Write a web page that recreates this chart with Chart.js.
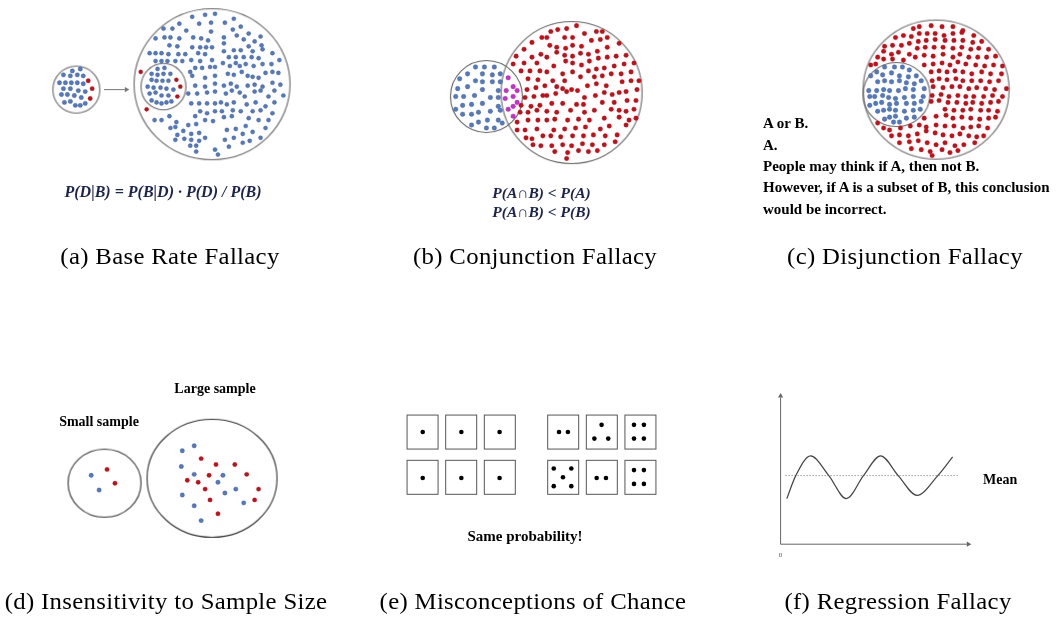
<!DOCTYPE html>
<html><head><meta charset="utf-8">
<script src="https://cdn.jsdelivr.net/npm/chart.js@4.4.0/dist/chart.umd.min.js"></script>
<style>
html,body{margin:0;padding:0;background:#fff;}
#wrap{position:relative;width:1057px;height:622px;overflow:hidden;background:#fff;}
#c{position:absolute;left:0;top:0;width:1057px;height:622px;}
.t{position:absolute;white-space:nowrap;line-height:1;font-family:"Liberation Serif","Times New Roman",serif;color:#000;}
.cap{font-size:22.5px;letter-spacing:0.3px;transform:translateX(-50%) scaleX(1.1);}
.b{font-weight:bold;}
.f{font-weight:bold;font-style:italic;color:#1b2350;}
.ctr{transform:translateX(-50%);}
</style></head>
<body><div id="wrap"><canvas id="c" width="1057" height="622"></canvas>
<div class="t f ctr" style="left:163px;top:183.9px;font-size:16px">P(D|B) = P(B|D) · P(D) / P(B)</div>
<div class="t f ctr" style="left:541.5px;top:185.3px;font-size:15.5px">P(A∩B) &lt; P(A)</div>
<div class="t f ctr" style="left:541.5px;top:203.7px;font-size:15.5px">P(A∩B) &lt; P(B)</div>
<div class="t b" style="left:763px;top:116.4px;font-size:15px">A or B.</div>
<div class="t b" style="left:763px;top:137.7px;font-size:15px">A.</div>
<div class="t b" style="left:763px;top:159px;font-size:15px">People may think if A, then not B.</div>
<div class="t b" style="left:763px;top:180.4px;font-size:15px">However, if A is a subset of B, this conclusion</div>
<div class="t b" style="left:763px;top:201.7px;font-size:15px">would be incorrect.</div>
<div class="t cap" style="left:170px;top:246.2px">(a) Base Rate Fallacy</div>
<div class="t cap" style="left:535px;top:246.2px">(b) Conjunction Fallacy</div>
<div class="t cap" style="left:905px;top:246.2px">(c) Disjunction Fallacy</div>
<div class="t b ctr" style="left:215px;top:381.6px;font-size:14px">Large sample</div>
<div class="t b ctr" style="left:99px;top:415px;font-size:14px">Small sample</div>
<div class="t b ctr" style="left:525px;top:529.1px;font-size:15px">Same probability!</div>
<div class="t b" style="left:983px;top:473.3px;font-size:14px">Mean</div>
<div class="t ctr" style="left:780.5px;top:551.6px;font-size:7px;color:#555">0</div>
<div class="t cap" style="left:166px;top:591.2px">(d) Insensitivity to Sample Size</div>
<div class="t cap" style="left:533px;top:591.2px">(e) Misconceptions of Chance</div>
<div class="t cap" style="left:898px;top:591.2px">(f) Regression Fallacy</div>
</div>
<script>
// ---------- data (page pixel units) ----------
const circleCenters = [[72,86],[209,80.5],[160,83],[486,93],[572,89],[940,86],[900,91],[100.5,486],[209,481]];
const circleRadii   = [[23.5,23.5],[78,75.5],[22.5,23.3],[36,36],[70.5,71],[73,69.5],[33.5,32],[36.5,34],[65,59]];

const aSmallBlue = [[76,65],[68,67],[59,71],[66,72],[73,71],[79,72],[55,79],[61,79],[67,79],[73,79],[79,80],[59,85],[66,85],[74,87],[81,88],[57,91],[63,91],[70,92],[77,94],[60,99],[66,98],[71,102],[76,102],[81,100]];
const aSmallRed = [[84,77],[88,85],[86,95]];
const aBigBlue = [[189,12],[202,10],[212,9],[176,19],[196,19],[208,18],[160,24],[169,24],[183,26],[208,27],[152,34],[161,33],[167,33],[176,34],[190,33],[198,34],[205,36],[166,41],[174,42],[189,43],[197,43],[203,43],[209,43],[146,49],[152,49],[158,49],[165,50],[175,50],[182,50],[195,49],[202,50],[152,57],[158,57],[164,57],[172,57],[179,57],[188,56],[197,57],[209,56],[161,64],[154,65],
[148,70],[154,71],[160,70],[167,70],[148,76],[153,77],[159,77],[165,77],[144,83],[150,84],[157,84],[163,85],[170,86],[146,90],[152,89],[158,92],[165,92],[148,97],[153,99],[158,100],[163,99],[168,98],
[187,68],[192,64],[199,64],[207,63],[212,63],[189,72],[202,74],[212,72],[192,82],[202,83],[212,80],[185,90],[194,90],[204,89],[212,88],[188,100],[196,100],[204,100],[212,100],[197,108],[204,110],[212,108],[151,117],[158,117],[166,113],[173,119],[192,113],[202,117],[210,118],[167,125],[172,124],[185,122],[193,121],[174,132],[180,128],[188,131],[196,130],[172,137],[181,136],[188,137],[196,138],[202,135],[187,143],[193,143],[212,147],[193,149],[215,152],
[222,18],[231,14],[230,25],[238,22],[221,33],[234,31],[246,29],[241,35],[252,37],[258,32],[221,39],[246,42],[259,41],[221,47],[231,46],[238,46],[250,47],[260,45],[226,53],[233,53],[241,53],[249,53],[256,54],[270,49],[220,59],[227,62],[233,59],[237,62],[243,60],[251,62],[260,60],[269,60],[277,56],[225,70],[231,71],[239,68],[245,72],[250,73],[256,74],[263,69],[270,68],[276,69],[221,82],[228,80],[234,83],[245,82],[252,81],[260,83],[270,79],[278,81],
[223,90],[229,87],[237,89],[242,93],[252,88],[258,87],[266,93],[272,87],[281,92],[218,99],[224,101],[231,99],[244,101],[253,99],[263,103],[272,99],[219,108],[230,107],[238,108],[250,108],[258,107],[270,110],[221,114],[229,113],[246,115],[256,117],[266,117],[224,127],[233,126],[243,123],[250,129],[263,125],[240,131],[222,137],[231,135],[240,140],[247,138],[258,135],[226,144]];
const aBigRed = [[137,68],[173,76],[177,83],[174,93],[143,106]];
const aArrow = [[100,86],[121,86]];
const aArrowHead = [[122.5,86]];

const bBlue = [[475,63],[484,63],[494,63],[459,75],[467,70],[475,77],[482,70],[492,71],[500,70],[482,78],[492,78],[500,78],[457,85],[467,83],[482,86],[498,87],[455,93],[463,93],[474,92],[490,94],[498,94],[455,106],[462,102],[471,101],[482,100],[498,103],[462,111],[471,111],[478,109],[490,108],[500,107],[471,122],[478,119],[487,117],[498,117],[502,120],[486,125],[494,125]];
const bMagenta = [[508,74],[513,83],[506,87],[517,87],[513,93],[505,95],[517,99],[513,103],[508,106],[513,113]];
const bRed = [[542,33],[532,38],[524,45],[516,52],[532,53],[541,50],[513,60],[524,59],[537,59],[521,67],[530,67],[540,67],[528,75],[538,76],[527,86],[536,84],[543,92],[525,94],[534,93],[521,102],[531,103],[540,102],[520,109],[528,109],[537,107],[517,119],[528,117],[538,117],[517,127],[525,127],[537,126],[543,133],[526,135],[532,136],[533,142],[541,143],
[551,27],[558,25],[567,24],[577,21],[547,33],[565,33],[573,33],[585,29],[597,27],[603,27],[550,41],[557,43],[566,44],[573,41],[582,42],[592,36],[601,35],[608,33],[620,39],[547,53],[557,48],[565,51],[573,52],[581,49],[589,50],[598,47],[608,43],[554,62],[566,57],[573,59],[582,61],[590,57],[599,54],[608,53],[617,52],[627,51],[547,68],[563,70],[573,68],[589,67],[597,65],[605,64],[615,62],[625,60],[635,59],[553,77],[565,77],[581,73],[595,73],[603,72],[612,70],[622,70],[632,68],[545,82],[557,83],[563,85],[572,86],[578,87],[588,82],[597,80],[607,82],[623,78],[632,77],[640,77],[547,92],[556,90],[567,88],[585,94],[596,92],[605,89],[613,91],[620,89],[627,88],[638,86],[552,100],[563,100],[577,101],[584,101],[603,99],[615,99],[628,97],[637,97],[547,108],[557,109],[571,107],[585,109],[595,107],[612,106],[620,107],[627,108],[635,106],[547,117],[555,116],[568,117],[579,116],[590,117],[605,115],[620,114],[630,117],[637,115],[554,127],[565,126],[576,125],[586,124],[601,126],[610,123],[627,122],[551,133],[561,134],[573,133],[584,133],[594,132],[606,133],[618,132],[552,143],[563,142],[572,143],[583,141],[593,142],[605,142],[616,139],[568,150],[579,148],[589,149],[598,148],[555,149],[567,156]];

const cBlue = [[888,63],[898,63],[906,63],[913,66],[880,68],[874,72],[886,71],[895,69],[903,72],[912,73],[920,72],[881,78],[888,77],[895,78],[903,77],[910,79],[918,80],[925,77],[872,87],[880,87],[887,86],[893,87],[902,87],[909,85],[917,86],[928,85],[873,93],[878,93],[886,92],[892,94],[899,95],[908,94],[917,93],[927,93],[873,102],[879,100],[885,99],[893,101],[900,100],[910,100],[918,100],[925,98],[881,108],[887,107],[893,106],[899,107],[908,108],[917,107],[924,106],[888,116],[893,114],[899,113],[903,119],[897,119],[910,115],[918,114]];
const cRed = [[917,24],[923,22],[935,21],[946,22],[957,22],[967,26],[899,33],[907,31],[915,32],[923,29],[931,29],[939,29],[948,31],[957,29],[966,28],[978,31],[888,42],[896,41],[905,41],[913,39],[922,37],[930,36],[939,35],[949,36],[958,36],[967,36],[977,38],[986,37],[881,53],[887,47],[895,50],[902,48],[913,50],[921,44],[929,43],[938,43],[947,43],[957,44],[966,43],[975,45],[983,44],[993,45],[874,61],[879,60],[887,55],[896,55],[907,56],[919,53],[928,51],[937,52],[947,50],[957,53],[964,50],[973,53],[982,53],[991,53],[1000,52],[928,61],[937,60],[946,59],[954,61],[962,58],[970,60],[980,61],[989,62],[998,61],[1007,62],[935,68],[943,67],[951,68],[959,67],[967,68],[976,70],[986,68],[995,70],[1006,70],[936,77],[943,75],[951,76],[960,75],[967,77],[976,77],[985,77],[994,78],[1003,77],[937,83],[947,84],[956,83],[964,83],[973,85],[981,84],[990,85],[999,86],[1011,85],[936,92],[945,91],[953,93],[962,92],[970,93],[978,93],[988,93],[997,92],[1007,93],[935,98],[943,97],[952,99],[961,99],[970,100],[977,99],[986,100],[995,99],[1003,98],[949,106],[958,107],[967,107],[975,106],[985,107],[993,107],[1002,108],[928,115],[940,113],[950,112],[957,115],[966,114],[975,115],[984,116],[993,115],[1000,114],[881,120],[887,125],[893,127],[904,125],[914,123],[923,122],[930,124],[940,122],[949,123],[958,123],[967,125],[975,124],[983,123],[992,125],[895,133],[903,132],[912,133],[921,131],[930,128],[939,130],[947,132],[956,133],[964,131],[973,133],[981,134],[988,133],[903,140],[913,139],[922,138],[931,140],[940,142],[949,140],[959,143],[968,142],[979,140],[915,146],[925,147],[934,149],[946,147],[954,150],[962,148],[936,153]];

const dBlue = [[87,478],[95,493],[179,453],[191,448],[178,469],[191,477],[220,478],[215,485],[222,496],[233,492],[179,498],[241,506],[191,509],[198,524]];
const dRed = [[103,472],[111,486],[198,461],[213,467],[232,467],[206,478],[244,477],[184,483],[195,485],[202,492],[256,492],[207,503],[252,503],[215,517]];

const eBoxes = [[421.5,434],[460.5,434],[499.5,434],[563.5,434],[602.5,434],[641.5,434],[421.5,480],[460.5,480],[499.5,480],[563.5,480],[602.5,480],[641.5,480]];
const ePips = [[421.7,434],[460.7,434],[499.3,434],[559.3,434],[568.3,434],[602.3,426.7],[595,440.7],[609,440.7],[635,426.7],[645,426.7],[635,440.7],[645,440.7],
[421.7,480.7],[460.7,480.7],[499.3,480.7],[554,471],[571.7,471],[563.3,480],[554,489],[571.7,489],[597.3,480.7],[606.7,480.7],[635,472.7],[645,472.7],[635,486.7],[645,486.7]];

const fWave = [[789.3,501.7],[798.3,478.3],[813.3,458.3],[831.7,478.3],[849.3,501.7],[866.7,478.3],[884,458.3],[901.7,478.3],[920.7,498.3],[941.7,478.3],[956.7,459.3]];
const fMean = [[788,478.3],[962,478.3]];
const fAxisY = [[783,548],[783,399]];
const fAxisX = [[783,548],[971,548]];
const fArrowHeads = [[783,397.5],[972.5,548]];

// ---------- styles ----------
function ring(rx, ry, lw, color) {
  const c = document.createElement('canvas');
  const w = Math.ceil(2 * rx + lw + 3), h = Math.ceil(2 * ry + lw + 3);
  c.width = w; c.height = h;
  const g = c.getContext('2d');
  g.strokeStyle = color; g.lineWidth = lw;
  g.beginPath(); g.ellipse(w / 2, h / 2, rx, ry, 0, 0, Math.PI * 2); g.stroke();
  return c;
}
function box(bw, bh, lw, color) {
  const c = document.createElement('canvas');
  c.width = bw + 3; c.height = bh + 3;
  const g = c.getContext('2d');
  g.strokeStyle = color; g.lineWidth = lw;
  g.strokeRect(1.5, 1.5, bw, bh);
  return c;
}
const ringColors = ['#666','#666','#666','#666','#666','#666','#666','#333','#333'];
const ringStyles = circleRadii.map((r, i) => ring(r[0], r[1], 1.1, ringColors[i]));
const boxStyle = box(31, 34, 1, '#555');

const BLUE = '#4a7ad2', RED = '#e2000d', MAG = '#e31ee3';
const dots = (data, color, r) => ({ data, pointRadius: r, pointBackgroundColor: color,
  pointBorderColor: 'rgba(80,80,80,0.55)', pointBorderWidth: 0.6, order: 1, clip: false });
const line = (data, color, w, extra) => Object.assign({ data, showLine: true, pointRadius: 0,
  borderColor: color, borderWidth: w, order: 5, clip: false }, extra || {});

new Chart(document.getElementById('c'), {
  type: 'scatter',
  data: { datasets: [
    { data: circleCenters, pointStyle: ringStyles, pointRadius: 3, order: 10, clip: false },
    { data: eBoxes, pointStyle: boxStyle, pointRadius: 3, order: 10, clip: false },
    dots(aSmallBlue, BLUE, 2.2), dots(aSmallRed, RED, 2.2),
    dots(aBigBlue, BLUE, 2.1), dots(aBigRed, RED, 2.1),
    dots(bBlue, BLUE, 2.3), dots(bMagenta, MAG, 2.3), dots(bRed, RED, 2.3),
    dots(cBlue, BLUE, 2.3), dots(cRed, RED, 2.3),
    dots(dBlue, BLUE, 2.2), dots(dRed, RED, 2.2),
    { data: ePips, pointRadius: 2.3, pointBackgroundColor: '#000', pointBorderWidth: 0, order: 1, clip: false },
    line(aArrow, '#777', 1),
    { data: aArrowHead, pointStyle: 'triangle', rotation: 90, pointRadius: 3, pointBackgroundColor: '#777', pointBorderWidth: 0, order: 4, clip: false },
    line(fWave, '#444', 1.2, { cubicInterpolationMode: 'monotone' }),
    line(fMean, '#888', 1, { borderDash: [1.2, 1.8] }),
    line(fAxisY, '#666', 1), line(fAxisX, '#666', 1),
    { data: fArrowHeads, pointStyle: 'triangle', rotation: [0, 90], pointRadius: 3, pointBackgroundColor: '#666', pointBorderWidth: 0, order: 4, clip: false }
  ]},
  options: {
    responsive: false, animation: false, events: [],
    layout: { padding: 0 },
    plugins: { legend: { display: false }, tooltip: { enabled: false } },
    scales: {
      x: { type: 'linear', min: 0, max: 1057, display: false },
      y: { type: 'linear', min: 0, max: 622, reverse: true, display: false }
    }
  }
});
</script>
</body></html>
